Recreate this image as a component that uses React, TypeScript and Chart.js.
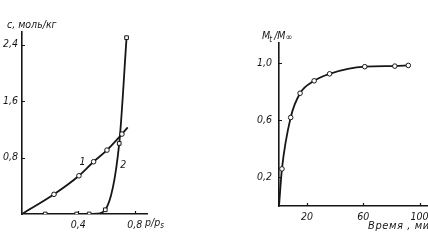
import React, { useEffect, useRef } from 'react';
import { Chart, registerables } from 'chart.js';
Chart.register(...registerables);

// Left panel: sorption isotherms c (моль/кг) vs p/ps
const curve1X = [0, 0.227, 0.404, 0.508, 0.603, 0.709, 0.75];
const curve1Y = [0, 0.279, 0.542, 0.741, 0.906, 1.133, 1.228];
const curve1Marker = [0, 1, 1, 1, 1, 1, 0];
const curve2X = [0, 0.165, 0.388, 0.477, 0.53, 0.591, 0.69, 0.742];
const curve2Y = [0, 0, 0, 0, 0.005, 0.06, 1.0, 2.5];
const curve2Marker = [0, 1, 1, 1, 0, 1, 1, 1];
const leftXTicks = [0.4, 0.8];
const leftYTicks = [0.8, 1.6, 2.4];
const curveLabels = ['1', '2'];
const curveLabelX = [0.43, 0.718];
const curveLabelY = [0.727, 0.694];

// Right panel: kinetics Mt/M∞ vs time, min
const timeMin = [0, 2.1, 8.3, 15, 25, 36, 61, 82.4, 92];
const ratio = [0, 0.26, 0.62, 0.79, 0.877, 0.926, 0.976, 0.98, 0.985];
const ratioMarker = [0, 1, 1, 1, 1, 1, 1, 1, 1];
const rightXTicks = [20, 60, 100];
const rightYTicks = [0.2, 0.6, 1.0];

const FONT_FAMILY = '"Liberation Sans Narrow", "DejaVu Sans Condensed", "DejaVu Sans", sans-serif';
const INK = '#161616';

const comma = (v: number) => v.toFixed(1).replace('.', ',');

function inwardTicks(len: number) {
  return {
    id: 'inwardTicks',
    afterDatasetsDraw(chart: any) {
      const ctx = chart.ctx;
      const { x, y } = chart.scales;
      const a = chart.chartArea;
      ctx.save();
      ctx.strokeStyle = INK;
      ctx.lineWidth = 1.2;
      ctx.beginPath();
      x.ticks.forEach((t: any) => {
        const px = Math.round(x.getPixelForValue(t.value)) + 0.5;
        ctx.moveTo(px, a.bottom);
        ctx.lineTo(px, a.bottom - len);
      });
      y.ticks.forEach((t: any) => {
        const py = Math.round(y.getPixelForValue(t.value)) + 0.5;
        ctx.moveTo(a.left, py);
        ctx.lineTo(a.left + len, py);
      });
      ctx.stroke();
      ctx.restore();
    },
  };
}

function textPlugin(draw: (chart: any, ctx: CanvasRenderingContext2D) => void) {
  return {
    id: 'texts',
    afterDraw(chart: any) {
      const ctx = chart.ctx;
      ctx.save();
      ctx.fillStyle = INK;
      ctx.textBaseline = 'middle';
      draw(chart, ctx);
      ctx.restore();
    },
  };
}

function axes(xMax: number, yMax: number, xTicks: number[], yTicks: number[], yWidth: number, xHeight: number, xFmt: (v: number) => string, yFmt: (v: number) => string, yPad: number, xPad: number) {
  const font = { family: FONT_FAMILY, size: 10.5, style: 'italic' as const };
  return {
    x: {
      type: 'linear' as const,
      min: 0,
      max: xMax,
      afterBuildTicks: (s: any) => { s.ticks = xTicks.map((v) => ({ value: v })); },
      afterFit: (s: any) => { s.height = xHeight; },
      grid: { display: true, drawOnChartArea: false, drawTicks: false },
      border: { display: true, color: INK, width: 1.6 },
      ticks: { color: INK, font, padding: xPad, maxRotation: 0, autoSkip: false, callback: (v: any) => xFmt(Number(v)) },
    },
    y: {
      type: 'linear' as const,
      min: 0,
      max: yMax,
      afterBuildTicks: (s: any) => { s.ticks = yTicks.map((v) => ({ value: v })); },
      afterFit: (s: any) => { s.width = yWidth; },
      grid: { display: true, drawOnChartArea: false, drawTicks: false },
      border: { display: true, color: INK, width: 1.6 },
      ticks: { color: INK, font, padding: yPad, autoSkip: false, callback: (v: any) => yFmt(Number(v)) },
    },
  };
}

function lineSet(xs: number[], ys: number[], marks: number[], style: string, r: number) {
  return {
    data: xs.map((x, i) => ({ x, y: ys[i] })),
    borderColor: INK,
    borderWidth: 1.8,
    backgroundColor: '#ffffff',
    pointBackgroundColor: '#ffffff',
    pointBorderColor: INK,
    pointBorderWidth: 1,
    pointStyle: style,
    pointRadius: marks.map((m) => (m ? r : 0)),
    cubicInterpolationMode: 'monotone' as const,
    fill: false,
  };
}

export default function App() {
  const leftRef = useRef<HTMLCanvasElement>(null);
  const rightRef = useRef<HTMLCanvasElement>(null);

  useEffect(() => {
    const italic = (size: number) => `italic ${size}px ${FONT_FAMILY}`;
    const left = new Chart(leftRef.current!, {
      type: 'line',
      data: {
        datasets: [
          lineSet(curve1X, curve1Y, curve1Marker, 'circle', 2.3),
          lineSet(curve2X, curve2Y, curve2Marker, 'rect', 2.6),
        ],
      },
      options: {
        animation: false,
        responsive: false,
        devicePixelRatio: 1,
        layout: { padding: { top: 32, right: 53, left: 0, bottom: 0 } },
        plugins: { legend: { display: false }, tooltip: { enabled: false } },
        scales: axes(0.887, 2.58, leftXTicks, leftYTicks, 22, 26, comma, comma, 4, 5),
      } as any,
      plugins: [
        inwardTicks(3),
        textPlugin((chart, ctx) => {
          const a = chart.chartArea;
          const { x, y } = chart.scales;
          ctx.font = italic(10.5);
          ctx.textAlign = 'center';
          curveLabels.forEach((t, i) => ctx.fillText(t, x.getPixelForValue(curveLabelX[i]), y.getPixelForValue(curveLabelY[i])));
          ctx.textAlign = 'left';
          ctx.fillText('c, моль/кг', 7, a.top - 7);
          const px = a.right - 2;
          const py = a.bottom + 9;
          ctx.fillText('p/p', px, py);
          const w = ctx.measureText('p/p').width;
          ctx.font = italic(8);
          ctx.fillText('s', px + w, py + 3);
        }),
      ],
    });

    const right = new Chart(rightRef.current!, {
      type: 'line',
      data: {
        datasets: [lineSet(timeMin, ratio, ratioMarker, 'circle', 2.3)],
      },
      options: {
        animation: false,
        responsive: false,
        devicePixelRatio: 1,
        layout: { padding: { top: 43, right: 22, left: 0, bottom: 0 } },
        plugins: { legend: { display: false }, tooltip: { enabled: false } },
        scales: axes(106, 1.142, rightXTicks, rightYTicks, 49, 34, (v) => String(Math.round(v)), comma, 7, 5),
      } as any,
      plugins: [
        inwardTicks(3),
        textPlugin((chart, ctx) => {
          const a = chart.chartArea;
          ctx.textAlign = 'left';
          ctx.font = italic(10.5);
          const x0 = a.left - 17;
          const y0 = a.top - 7;
          ctx.fillText('M', x0, y0);
          let w = ctx.measureText('M').width;
          ctx.font = italic(8);
          ctx.fillText('t', x0 + w - 1, y0 + 4);
          ctx.font = italic(10.5);
          ctx.fillText('/M', x0 + w + 4, y0);
          w += 4 + ctx.measureText('/M').width;
          ctx.font = italic(9);
          ctx.fillText('∞', x0 + w, y0 + 2);
          ctx.font = italic(11);
          (ctx as any).letterSpacing = '0.6px';
          ctx.fillText('Время , мин', a.left + 89, a.bottom + 20);
        }),
      ],
    });

    return () => {
      left.destroy();
      right.destroy();
    };
  }, []);

  return (
    <div style={{ position: 'fixed', left: 0, top: 0, width: 428, height: 240, background: '#fff', overflow: 'hidden' }}>
      <canvas ref={leftRef} width={200} height={240} style={{ position: 'absolute', left: 0, top: 0 }} />
      <canvas ref={rightRef} width={220} height={240} style={{ position: 'absolute', left: 230, top: 0 }} />
    </div>
  );
}
